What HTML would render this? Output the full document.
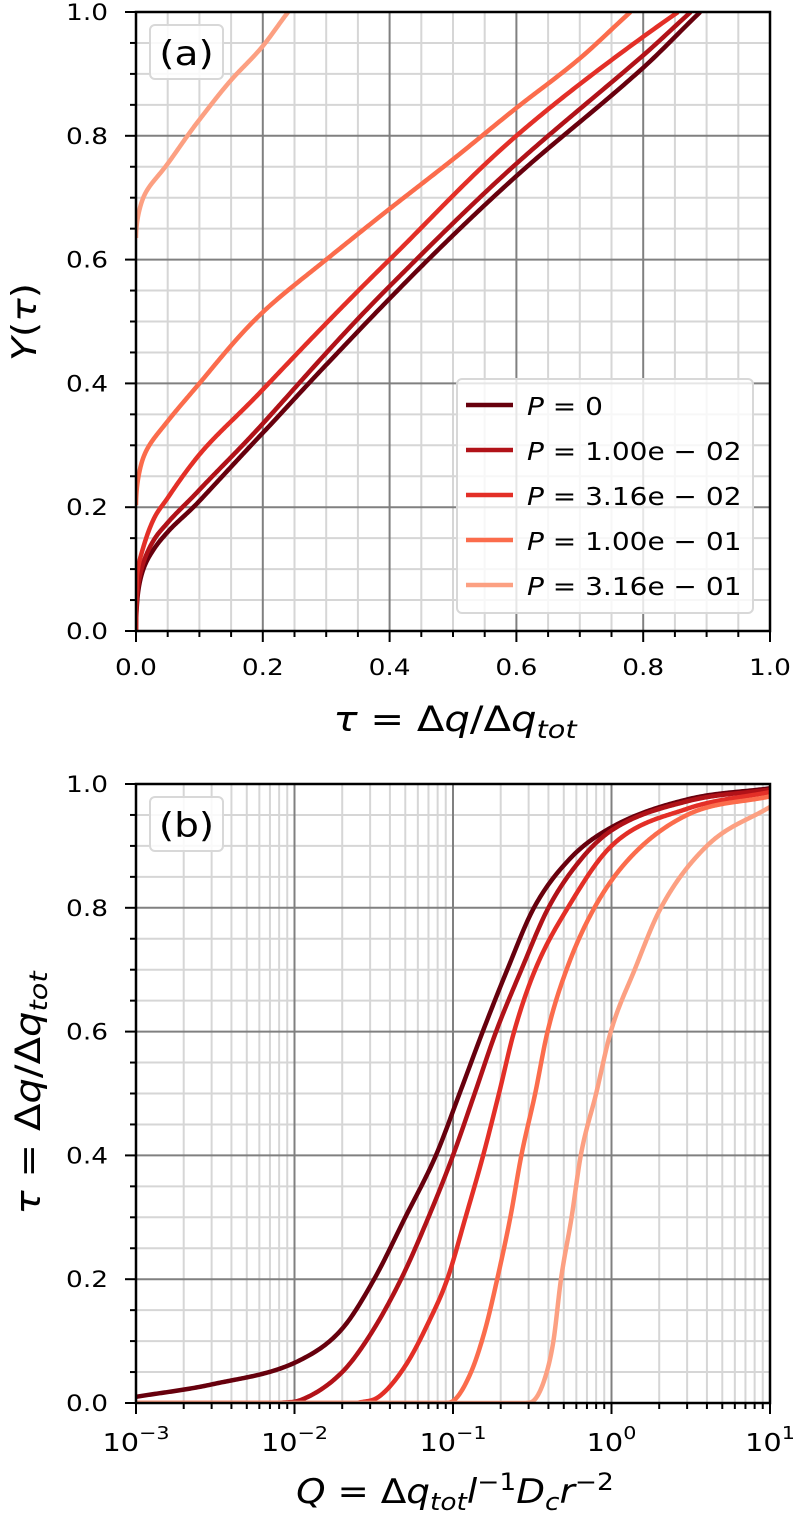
<!DOCTYPE html>
<html><head><meta charset="utf-8"><style>
body{margin:0;background:#fff}
svg{display:block;font-family:"DejaVu Sans","Liberation Sans",sans-serif}
</style></head><body>
<svg id="fig" width="796" height="1530" viewBox="0 0 796 1530">
<g id="pa"></g>
<g id="pb"></g>
</svg>
<script>
const NS="http://www.w3.org/2000/svg";
const colors=["#67000d","#b11218","#e32f27","#fb6c4c","#fca082"];
const legendLabels=["0","1.00e − 02","3.16e − 02","1.00e − 01","3.16e − 01"];
// Panel (a): Y(tau) vs tau
const aTau0=[0,0.001,0.003,0.01,0.03,0.05,0.1,0.2,0.3,0.4,0.6,0.8,0.89];
const aY0=[0,0.035,0.06,0.095,0.135,0.16,0.21,0.32,0.43,0.537,0.735,0.91,1.0];
const aTau1=[0,0.001,0.003,0.01,0.03,0.05,0.1,0.2,0.4,0.6,0.8,0.875];
const aY1=[0,0.045,0.07,0.105,0.15,0.175,0.228,0.335,0.557,0.755,0.93,1.0];
const aTau2=[0,0.001,0.003,0.01,0.03,0.05,0.1,0.2,0.4,0.6,0.8,0.855];
const aY2=[0,0.08,0.1,0.13,0.185,0.215,0.285,0.39,0.6,0.8,0.96,1.0];
const aTau3=[0,0.004,0.0115,0.05,0.1,0.2,0.3,0.4,0.5,0.6,0.7,0.78];
const aY3=[0.203,0.25,0.28,0.339,0.4,0.515,0.6,0.682,0.762,0.845,0.925,1.0];
const aTau4=[0,0.004,0.0115,0.05,0.1,0.15,0.2,0.24];
const aY4=[0.635,0.674,0.7,0.755,0.826,0.89,0.945,1.0];
// Panel (b): tau vs Q (log)
const bQ0=[0.001,0.003,0.011,0.02,0.0318,0.05,0.078,0.11,0.154,0.22,0.324,0.55,1,3,10];
const bT0=[0.01,0.03,0.07,0.12,0.2,0.3,0.4,0.5,0.6,0.7,0.8,0.88,0.93,0.975,0.993];
const bQ1=[0.008,0.011,0.02,0.03,0.047,0.07,0.1,0.137,0.187,0.27,0.4,0.65,1,3,10];
const bT1=[0,0.005,0.05,0.11,0.2,0.3,0.4,0.5,0.6,0.7,0.8,0.88,0.925,0.972,0.991];
const bQ2=[0.025,0.034,0.05,0.07,0.092,0.12,0.155,0.195,0.243,0.33,0.53,1,3,10];
const bT2=[0,0.01,0.06,0.13,0.2,0.3,0.4,0.5,0.6,0.7,0.8,0.9,0.96,0.987];
const bQ3=[0.09,0.1,0.13,0.16,0.19,0.23,0.27,0.33,0.395,0.52,0.78,1.3,3,10];
const bT3=[0,0.003,0.05,0.12,0.2,0.3,0.4,0.5,0.6,0.7,0.8,0.88,0.95,0.98];
const bQ4=[0.29,0.32,0.38,0.43,0.48,0.56,0.64,0.8,0.99,1.4,2.05,4,10];
const bT4=[0,0.003,0.04,0.1,0.2,0.3,0.4,0.5,0.6,0.7,0.8,0.9,0.963];
const aX=[aTau0,aTau1,aTau2,aTau3,aTau4], aYs=[aY0,aY1,aY2,aY3,aY4];
const bX=[bQ0,bQ1,bQ2,bQ3,bQ4], bYs=[bT0,bT1,bT2,bT3,bT4];
const linTicks=["0.0","0.2","0.4","0.6","0.8","1.0"];
const logTicks=["−3","−2","−1","0","1"];

function el(parent,tag,attrs,text){const e=document.createElementNS(NS,tag);for(const k in attrs)e.setAttribute(k,attrs[k]);if(text!==undefined)e.textContent=text;parent.appendChild(e);return e;}
function stext(parent,x,y,s,attrs,text){const a=Object.assign({x:0,y:0,transform:"translate("+x+","+y+") scale("+s+",1)"},attrs);return el(parent,"text",a,text);}

function monotone(xs,ys){
  const n=xs.length,d=[],m=new Array(n);
  for(let i=0;i<n-1;i++)d.push((ys[i+1]-ys[i])/(xs[i+1]-xs[i]));
  m[0]=d[0];m[n-1]=d[n-2];
  for(let i=1;i<n-1;i++){m[i]=(d[i-1]*d[i]<=0)?0:(d[i-1]+d[i])/2;}
  for(let i=0;i<n-1;i++){if(d[i]===0){m[i]=0;m[i+1]=0;continue;}
    const a=m[i]/d[i],b=m[i+1]/d[i],h=a*a+b*b;if(h>9){const t=3/Math.sqrt(h);m[i]=t*a*d[i];m[i+1]=t*b*d[i];}}
  return function(x){let i=0;while(i<n-2&&x>xs[i+1])i++;
    const h=xs[i+1]-xs[i],t=(x-xs[i])/h,t2=t*t,t3=t2*t;
    return (2*t3-3*t2+1)*ys[i]+(t3-2*t2+t)*h*m[i]+(-2*t3+3*t2)*ys[i+1]+(t3-t2)*h*m[i+1];};
}

const L=136,R=770;
function panel(g,top,bot,logx,xs,ys,tag){
  const sx=logx?(v=>L+(Math.log10(v)+3)/4*(R-L)):(v=>L+v*(R-L));
  const sy=v=>bot-v*(bot-top);
  const grid=el(g,"g",{});
  
  
  for(let i=1;i<20;i++){const v=i*0.05;if(i%4===0)continue;
    el(grid,"line",{x1:L,x2:R,y1:sy(v),y2:sy(v),stroke:"#d6d6d6","stroke-width":2});}
  if(logx){for(let d=-3;d<1;d++)for(let m=2;m<10;m++){const x=sx(m*Math.pow(10,d));el(grid,"line",{x1:x,x2:x,y1:top,y2:bot,stroke:"#d6d6d6","stroke-width":2});}}
  else{for(let i=1;i<20;i++){if(i%4===0)continue;const x=sx(i*0.05);el(grid,"line",{x1:x,x2:x,y1:top,y2:bot,stroke:"#d6d6d6","stroke-width":2});}}
  for(let i=1;i<5;i++){el(grid,"line",{x1:L,x2:R,y1:sy(i*0.2),y2:sy(i*0.2),stroke:"#808080","stroke-width":2});}
  if(logx){for(let d=-2;d<1;d++){const x=sx(Math.pow(10,d));el(grid,"line",{x1:x,x2:x,y1:top,y2:bot,stroke:"#808080","stroke-width":2});}}
  else{for(let i=1;i<5;i++){const x=sx(i*0.2);el(grid,"line",{x1:x,x2:x,y1:top,y2:bot,stroke:"#808080","stroke-width":2});}}
  for(let s=0;s<xs.length;s++){
    const fw=logx?(v=>Math.log10(v)):(v=>Math.sqrt(v));
    const tx=xs[s].map(fw);
    const f=monotone(tx,ys[s]);
    const x0=tx[0],x1=tx[tx.length-1];let d="";
    const N=400;
    for(let k=0;k<=N;k++){const u=x0+(x1-x0)*k/N;
      const xv=logx?Math.pow(10,u):u*u;
      d+=(k?"L":"M")+sx(xv).toFixed(2)+","+sy(Math.max(0,f(u))).toFixed(2);}
    if(logx&&x0>-3)d="M"+L+","+sy(0)+"L"+d.slice(1);
    const p=el(g,"path",{d:d,fill:"none",stroke:colors[s],"stroke-width":4.5,"stroke-linejoin":"round","clip-path":"url(#clip"+tag+")"});
    
    
  }
  el(g,"rect",{x:L,y:top,width:R-L,height:bot-top,fill:"none",stroke:"#000","stroke-width":2.5});
  for(let i=0;i<=20;i++){const y=sy(i*0.05);const maj=i%4===0;el(g,"line",{x1:L,x2:L-(maj?11:6),y1:y,y2:y,stroke:"#000","stroke-width":2});}
  linTicks.forEach((t,i)=>{const y=sy(i*0.2);const tx=stext(g,108,y+8,1.2,{"text-anchor":"end","font-size":22},t);
    });
  if(logx){
    for(let d=-3;d<=1;d++){const x=sx(Math.pow(10,d));el(g,"line",{x1:x,x2:x,y1:bot,y2:bot+11,stroke:"#000","stroke-width":2});}
    for(let d=-3;d<1;d++)for(let m=2;m<10;m++){const x=sx(m*Math.pow(10,d));el(g,"line",{x1:x,x2:x,y1:bot,y2:bot+6,stroke:"#000","stroke-width":2});}
    logTicks.forEach((t,i)=>{const x=sx(Math.pow(10,i-3));const tx=stext(g,x,bot+48,1.15,{"text-anchor":"middle","font-size":25});
      
      el(tx,"tspan",{},"10");el(tx,"tspan",{dy:-12,"font-size":18},t);});
  }else{
    for(let i=0;i<=20;i++){const x=sx(i*0.05);const maj=i%4===0;el(g,"line",{x1:x,x2:x,y1:bot,y2:bot+(maj?11:6),stroke:"#000","stroke-width":2});}
    linTicks.forEach((t,i)=>{const tx=stext(g,sx(i*0.2),bot+44,1.2,{"text-anchor":"middle","font-size":22},t);
      });
  }
}
const defs=el(document.getElementById("fig"),"defs",{});
const ca=el(defs,"clipPath",{id:"clipa"});el(ca,"rect",{x:136,y:12,width:634,height:619});
const cb=el(defs,"clipPath",{id:"clipb"});el(cb,"rect",{x:136,y:784,width:634,height:619});
const ga=document.getElementById("pa"),gb=document.getElementById("pb");
panel(ga,12,631,false,aX,aYs,"a");
panel(gb,784,1403,true,bX,bYs,"b");

const lg=el(ga,"g",{});


el(lg,"rect",{x:457,y:379,width:296,height:234,rx:5,fill:"rgba(255,255,255,0.8)",stroke:"#d8d8d8","stroke-width":2});
legendLabels.forEach((t,i)=>{const y=405+i*45;
  const e=el(lg,"g",{});
  
  
  el(e,"line",{x1:466,x2:513,y1:y,y2:y,stroke:colors[i],"stroke-width":4.5});
  const tx=stext(e,527,y+10,1.12,{"font-size":25});
  el(tx,"tspan",{"font-style":"italic"},"P");el(tx,"tspan",{}," = "+t);
});
function plabel(g,y,t){const b=el(g,"g",{});
  
  
  el(b,"rect",{x:150,y:y,width:73,height:54,rx:5,fill:"rgba(255,255,255,0.85)",stroke:"#d8d8d8","stroke-width":2});
  stext(b,186.5,y+40,1.15,{"text-anchor":"middle","font-size":34},t);}
plabel(ga,25,"(a)");plabel(gb,797,"(b)");
const svg=document.getElementById("fig");
function tauTitle(t){el(t,"tspan",{"font-style":"italic"},"τ");el(t,"tspan",{}," = Δ");el(t,"tspan",{"font-style":"italic"},"q");el(t,"tspan",{},"/Δ");el(t,"tspan",{"font-style":"italic"},"q");el(t,"tspan",{"font-style":"italic","font-size":25,dy:7},"tot");}
let t=el(svg,"text",{x:0,y:0,"font-size":34,transform:"translate(36,322) rotate(-90) scale(1.15,1)","text-anchor":"middle"});

el(t,"tspan",{"font-style":"italic"},"Y");el(t,"tspan",{},"(");el(t,"tspan",{"font-style":"italic"},"τ");el(t,"tspan",{},")");
t=stext(svg,455,731,1.15,{"font-size":35,"text-anchor":"middle"});

tauTitle(t);
t=el(svg,"text",{x:0,y:0,"font-size":35,transform:"translate(40,1093) rotate(-90) scale(1.15,1)","text-anchor":"middle"});

tauTitle(t);
t=stext(svg,455,1503,1.1,{"font-size":34,"text-anchor":"middle"});

el(t,"tspan",{"font-style":"italic"},"Q");el(t,"tspan",{}," = Δ");el(t,"tspan",{"font-style":"italic"},"q");el(t,"tspan",{"font-style":"italic","font-size":24,dy:7},"tot");
el(t,"tspan",{"font-style":"italic",dy:-7},"l");el(t,"tspan",{"font-size":24,dy:-13},"−1");
el(t,"tspan",{"font-style":"italic",dy:13},"D");el(t,"tspan",{"font-style":"italic","font-size":24,dy:7},"c");
el(t,"tspan",{"font-style":"italic",dy:-7},"r");el(t,"tspan",{"font-size":24,dy:-13},"−2");
</script>
</body></html>
